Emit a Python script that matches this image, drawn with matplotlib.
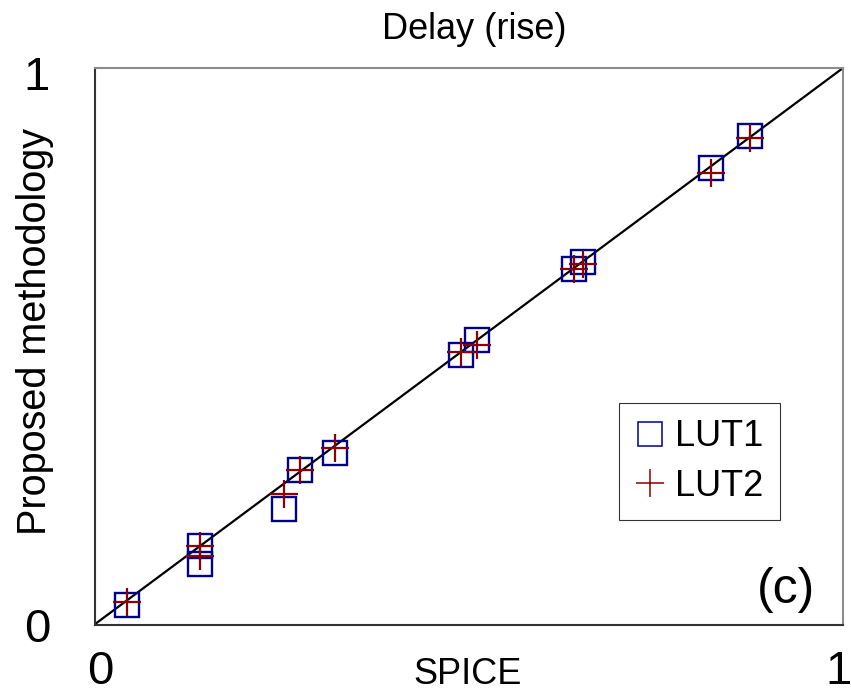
#!/usr/bin/env python3
"""
Delay (rise): proposed methodology vs SPICE, normalised, panel (c).
Writes out.png (851 x 699 px).
"""

import matplotlib
matplotlib.use("Agg")
import matplotlib.pyplot as plt
import matplotlib.transforms as mtransforms

# ── Data (normalised delays) ──────────────────────────────────────────────────
LUT1_SPICE = [0.043, 0.141, 0.141, 0.253, 0.275, 0.321,
              0.489, 0.511, 0.640, 0.653, 0.823, 0.876]
LUT1_PROP  = [0.035, 0.141, 0.108, 0.208, 0.278, 0.308,
              0.484, 0.511, 0.639, 0.652, 0.820, 0.878]

LUT2_SPICE = [0.043, 0.141, 0.141, 0.253, 0.275, 0.321,
              0.489, 0.511, 0.640, 0.652, 0.823, 0.876]
LUT2_PROP  = [0.040, 0.141, 0.123, 0.235, 0.278, 0.317,
              0.489, 0.502, 0.639, 0.647, 0.812, 0.874]

TICKS       = [0, 1]
TICK_LABELS = ["0", "1"]

# ── Colours ───────────────────────────────────────────────────────────────────
C_LUT1  = "#00008B"
C_LUT2  = "#8B0000"
C_FRAME = "#8C8C8C"
C_AXIS  = "#333333"

plt.rcParams.update({
    "font.family": ["Liberation Sans", "DejaVu Sans"],
})

fig = plt.figure(figsize=(8.51, 6.99), dpi=100)
ax = fig.add_axes([94.5 / 851, 1 - 624.5 / 699,
                   (843 - 94.5) / 851, (624.5 - 68) / 699])

# y = x reference
ax.plot([0, 1], [0, 1], color="black", linewidth=1.6, zorder=2)

ax.plot(LUT1_SPICE, LUT1_PROP, linestyle="none", marker="s",
        markersize=17.5, markerfacecolor="none", markeredgecolor=C_LUT1,
        markeredgewidth=1.7, label="LUT1", zorder=3)
ax.plot(LUT2_SPICE, LUT2_PROP, linestyle="none", marker="+",
        markersize=19.5, markeredgecolor=C_LUT2, markeredgewidth=1.6,
        label="LUT2", zorder=4)

ax.set_xlim(0, 1)
ax.set_ylim(0, 1)
ax.set_xticks(TICKS)
ax.set_yticks(TICKS)
ax.set_xticklabels(TICK_LABELS)
ax.set_yticklabels(TICK_LABELS)
ax.tick_params(axis="both", direction="in", length=8, width=1.2,
               color=C_AXIS, labelsize=34)
ax.tick_params(axis="x", pad=18)
ax.tick_params(axis="y", pad=32)

# small nudges of the tick labels (in pixels)
def nudge(label, dx, dy):
    label.set_transform(label.get_transform() +
                        mtransforms.ScaledTranslation(dx / 100, dy / 100,
                                                      fig.dpi_scale_trans))

xl = ax.get_xticklabels()
nudge(xl[0], 6, 0)
nudge(xl[1], -4, 0)
yl = ax.get_yticklabels()
nudge(yl[1], 0, -5)

for side in ("top", "right"):
    ax.spines[side].set_color(C_FRAME)
    ax.spines[side].set_linewidth(1.5)
for side in ("left", "bottom"):
    ax.spines[side].set_color(C_AXIS)
    ax.spines[side].set_linewidth(1.5)

ax.set_title("Delay (rise)", fontsize=26, x=0.508, pad=21)
ax.set_xlabel("SPICE", fontsize=26)
ax.set_ylabel("Proposed methodology", fontsize=28.5)
ax.xaxis.set_label_coords(0.498, -0.058)
ax.yaxis.set_label_coords(-0.054, 0.526)

leg = ax.legend(loc="upper left", bbox_to_anchor=(0.701, 0.398),
                borderaxespad=0, fontsize=26, frameon=True, fancybox=False,
                edgecolor="black", handlelength=0.8, handletextpad=0.3,
                borderpad=0.45, labelspacing=0.4, markerscale=1.0)
leg.get_frame().set_linewidth(0.8)
for h in leg.legend_handles:
    h.set_markeredgewidth(1.1)

ax.text(0.963, 0.02, "(c)", transform=ax.transAxes, fontsize=36,
        ha="right", va="bottom")

fig.savefig("out.png", dpi=100)
